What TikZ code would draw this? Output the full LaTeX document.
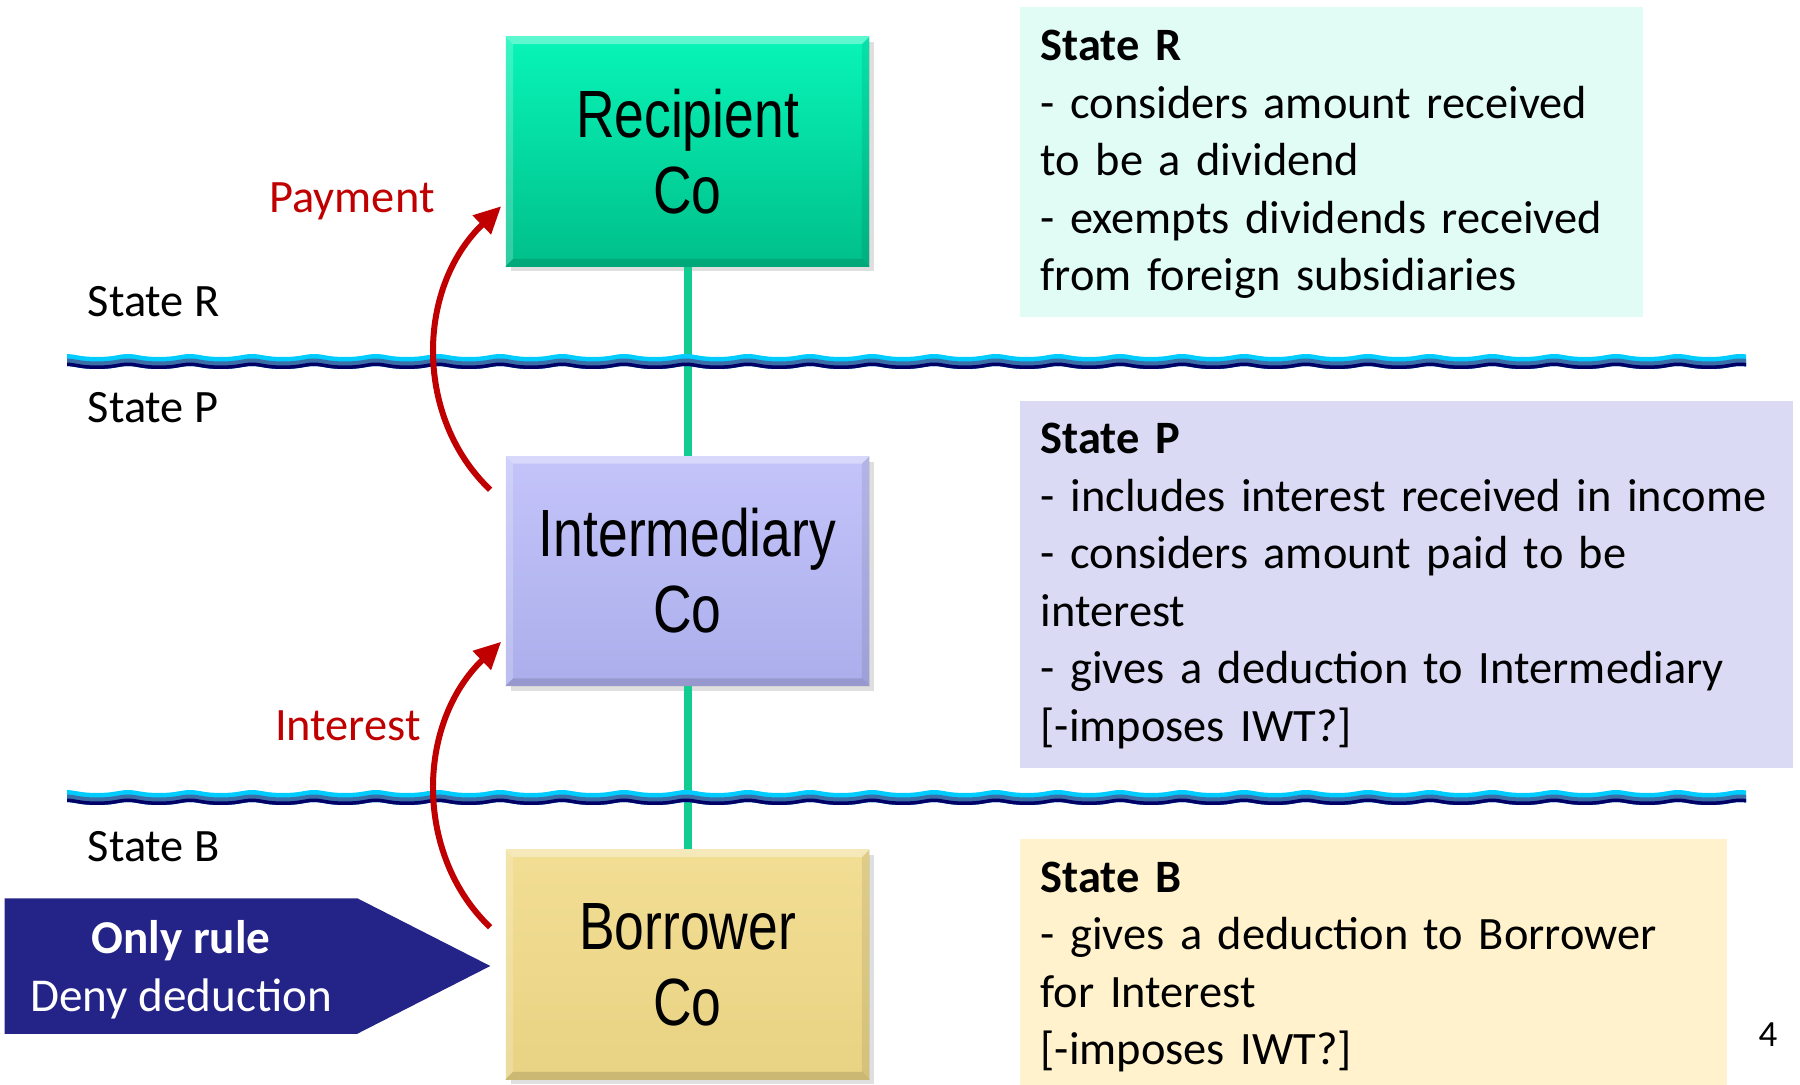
\documentclass[tikz,border=0pt]{standalone}
\usepackage{fontspec}
\setmainfont{Carlito}
\newfontfamily\boxfont[FakeStretch=0.8]{Liberation Sans}
\usetikzlibrary{arrows.meta,shadows,calc,backgrounds}

\definecolor{recipTop}{HTML}{08F5B8}
\definecolor{recipBot}{HTML}{00BF8A}
\definecolor{interTop}{HTML}{C4C4FA}
\definecolor{interBot}{HTML}{ABAEEB}
\definecolor{borrTop}{HTML}{F2DE94}
\definecolor{borrBot}{HTML}{E8D283}
\definecolor{linkgreen}{HTML}{12CC92}
\definecolor{payred}{HTML}{C00000}
\definecolor{rulenavy}{HTML}{232388}
\definecolor{noteR}{HTML}{E0FCF4}
\definecolor{noteP}{HTML}{DADAF4}
\definecolor{noteB}{HTML}{FFF2CC}
\definecolor{wavecyan}{HTML}{00CCFF}
\definecolor{waveblue}{HTML}{3B6FA8}
\definecolor{wavenavy}{HTML}{000066}

% bevelled edges of a company box
\newcommand\bevelbox[1]{%
  \fill[white,opacity=0.35] (#1.north west) -- (#1.north east) -- ($(#1.north east)+(-8,8)$) -- ($(#1.north west)+(8,8)$) -- cycle;
  \fill[white,opacity=0.2] (#1.north west) -- ($(#1.north west)+(8,8)$) -- ($(#1.south west)+(8,-8)$) -- (#1.south west) -- cycle;
  \fill[black,opacity=0.12] (#1.south west) -- ($(#1.south west)+(8,-8)$) -- ($(#1.south east)+(-8,-8)$) -- (#1.south east) -- cycle;
  \fill[black,opacity=0.08] (#1.south east) -- ($(#1.south east)+(-8,-8)$) -- ($(#1.north east)+(-8,8)$) -- (#1.north east) -- cycle;}

% hump profile of the border waves (one hump every 62 units)
\newcommand\hump{exp(-((mod(\x+27,62)-31)*(mod(\x+27,62)-31))/220)}

% one coloured layer of a border, between offsets #2 and #3 below the top line #1
\newcommand\borderlayer[4]{%
  \fill[#4] plot[domain=67:1746,samples=700] (\x,{#1+#2-3*\hump})
    -- plot[domain=1746:67,samples=700] (\x,{#1+#3-3*\hump}) -- cycle;}

% a state border: cyan, steel blue and navy stripes rising in small humps
\newcommand\border[1]{%
  \borderlayer{#1}{0}{12}{wavecyan}
  \borderlayer{#1}{4.5}{12}{waveblue}
  \borderlayer{#1}{8.5}{12}{wavenavy}}

\tikzset{
  entity/.style={minimum width=3.63cm, minimum height=2.29cm, inner sep=0pt, align=center,
    font=\boxfont\fontsize{19}{21.6}\selectfont,
    drop shadow={shadow xshift=1.5pt,shadow yshift=-1.5pt,opacity=0.25}},
  notebox/.style={anchor=north west, inner sep=0pt},
  notetext/.style={anchor=west, inner sep=0pt, text width=7.7cm, align=left,
    font=\fontsize{13.2}{16.33}\selectfont},
  statelabel/.style={anchor=west, inner sep=0pt, font=\fontsize{13.2}{16}\selectfont},
  flowlabel/.style={inner sep=0pt, text=payred, font=\fontsize{13.2}{16}\selectfont},
  flow/.style={payred, line width=0.06cm, -{Triangle[length=0.27cm,width=0.25cm]}},
  link/.style={linkgreen, line width=0.08cm},
  rulebox/.style={minimum width=3.51cm, minimum height=1.34cm, inner sep=0pt, align=center,
    text=white, font=\fontsize{13.4}{16.5}\selectfont}
}

\begin{document}
\begin{tikzpicture}[x=0.01cm,y=-0.01cm]
\useasboundingbox (0,0) rectangle (1800,1085);

% notes on each state
\node[notebox, fill=noteR, minimum width=6.23cm, minimum height=3.10cm] (boxR) at (1019,6) {};
\node[notebox, fill=noteP, minimum width=7.73cm, minimum height=3.67cm] (boxP) at (1019,400) {};
\node[notebox, fill=noteB, minimum width=7.07cm, minimum height=2.47cm] (boxB) at (1019,838) {};

\node[notetext] (txtR) at (1040,164.5)
  {\textbf{State R}\\- considers amount received\\to be a dividend\\- exempts dividends received\\from foreign subsidiaries};
\node[notetext] (txtP) at (1040,586)
  {\textbf{State P}\\- includes interest received in income\\- considers amount paid to be\\interest\\- gives a deduction to Intermediary\\{[}-imposes IWT?{]}};
\node[notetext] (txtB) at (1040,967)
  {\textbf{State B}\\- gives a deduction to Borrower\\for Interest\\{[}-imposes IWT?{]}};

% companies
\node[entity, top color=recipTop, bottom color=recipBot] (recip) at (687.5,151.5) {Recipient\\Co};
\node[entity, top color=interTop, bottom color=interBot] (inter) at (687.5,571) {Intermediary\\Co};
\node[entity, top color=borrTop, bottom color=borrBot] (borr) at (687.5,964.5) {Borrower\\Co};
\bevelbox{recip}
\bevelbox{inter}
\bevelbox{borr}

% ownership links
\draw[link] (recip.south) -- (inter.north);
\draw[link] (inter.south) -- (borr.north);

% state borders
\border{357}
\border{793}

% state names
\node[statelabel] (lblR) at (87,302) {State R};
\node[statelabel] (lblP) at (87,408) {State P};
\node[statelabel] (lblB) at (87,847) {State B};

% flows of funds
\draw[flow] ([shift={(-15,34)}]inter.north west) .. controls +(-75,-71) and +(-86,83) .. ([shift={(-4,170)}]recip.north west);
\draw[flow] ([shift={(-15,78)}]borr.north west) .. controls +(-75,-71) and +(-86,83) .. ([shift={(-4,186)}]inter.north west);
\node[flowlabel] (lblPay) at (352,201) {Payment};
\node[flowlabel] (lblInt) at (348,726) {Interest};

% the rule aimed at the borrower
\node[rulebox] (rule) at (181,970) {\textbf{Only rule}\\Deny deduction};
\begin{scope}[on background layer]
  \fill[rulenavy] ($(rule.north west)+(0,-4)$) -- ($(rule.north east)+(0,-4)$) -- ($(rule.east)+(133,-4)$)
    -- ($(rule.south east)+(0,-4)$) -- ($(rule.south west)+(0,-4)$) -- cycle;
\end{scope}

% page number
\node[inner sep=0pt, font=\fontsize{10.5}{12}\selectfont] (page) at (1768,1035) {4};
\end{tikzpicture}
\end{document}
